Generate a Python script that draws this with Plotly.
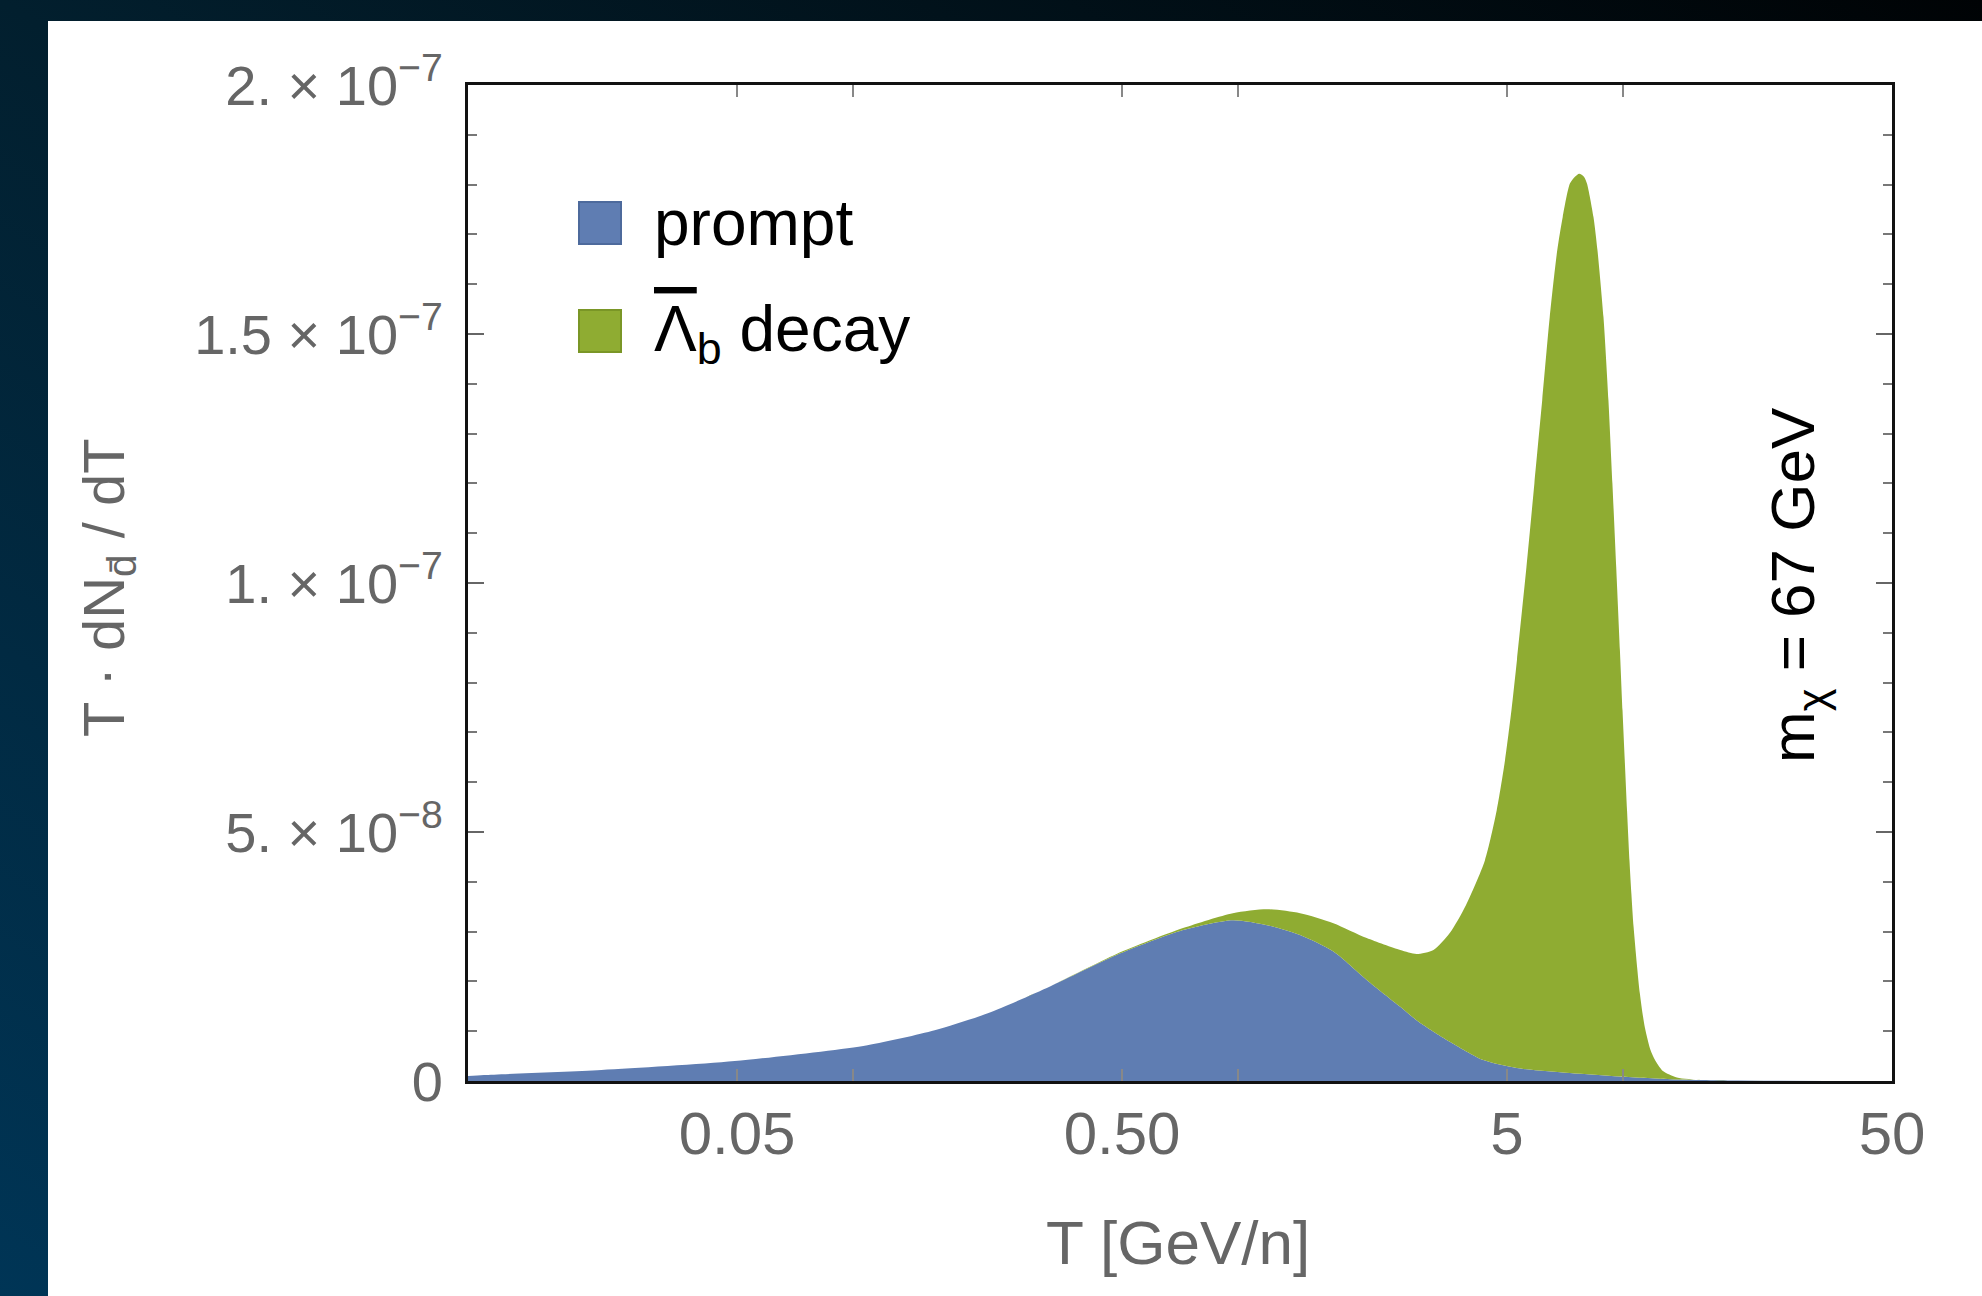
import base64
import plotly.graph_objects as go

# ---------------- data ----------------
# prompt component: T [GeV/n] and T dN/dT in units of 1e-9
T_prompt = [0.01, 0.011, 0.0222, 0.0493, 0.109, 0.163, 0.224, 0.325, 0.484, 0.72,
            0.97, 1.19, 1.45, 1.77, 2.16, 2.64, 2.91, 3.22, 3.55, 4.34,
            5.30, 7.28, 9.81, 13.8, 20.0, 50.0]
prompt = [1.0, 1.2, 2.2, 4.0, 7.2, 10.2, 13.6, 19.0, 25.3, 30.3,
          32.3, 31.3, 29.3, 26.0, 20.3, 14.9, 12.2, 9.9, 7.9, 4.2,
          2.6, 1.6, 0.9, 0.3, 0.1, 0.0]

# stacked total (prompt + anti-Lambda_b decay), units of 1e-9
T_total = [0.01, 0.011, 0.0222, 0.0493, 0.109, 0.163, 0.224, 0.325, 0.484, 0.72,
           0.97, 1.19, 1.45, 1.77, 2.16, 2.64, 2.91, 3.22, 3.55,
           3.91, 4.38, 4.70, 4.94, 5.133, 5.305, 5.616, 5.889, 6.171,
           6.455, 6.752, 6.977, 7.283, 7.505, 7.70, 7.92, 8.065, 8.385, 8.588,
           8.902, 9.170, 9.391, 9.607, 9.822, 9.977, 10.11, 10.25, 10.40, 10.52,
           10.66, 11.07, 11.40, 11.82, 12.18, 12.70, 13.81, 16.0, 20.0, 50.0]
total = [1.0, 1.2, 2.2, 4.0, 7.2, 10.2, 13.6, 19.0, 25.5, 30.7,
         33.7, 34.5, 33.7, 31.7, 28.7, 26.3, 25.5, 26.3, 29.7,
         35.3, 44.3, 54.3, 64.4, 74.4, 84.5, 103.2, 120.0, 136.7,
         153.4, 166.8, 173.5, 180.2, 181.6, 182.2, 181.6, 180.2, 173.5, 166.8,
         153.4, 136.7, 120.0, 103.2, 86.5, 74.4, 64.4, 54.3, 44.3, 37.6,
         30.9, 17.5, 10.8, 6.0, 3.9, 2.0, 0.7, 0.2, 0.1, 0.0]
UNIT = 1e-9

x_tickvals = [0.05, 0.5, 5, 50]
x_ticktext = ["0.05", "0.50", "5", "50"]
x_minorvals = [0.01, 0.1, 1, 10]
y_tickvals = [0, 5e-8, 1e-7, 1.5e-7, 2e-7]
y_ticktext = ["0", "5. × 10<sup>−8</sup>", "1. × 10<sup>−7</sup>",
              "1.5 × 10<sup>−7</sup>", "2. × 10<sup>−7</sup>"]

legend_labels = ["prompt",
                 '<span style="text-decoration:overline">Λ</span><sub>b</sub> decay']
blue = "#5f7db2"
green = "#8fac32"

# ---------------- layout geometry ----------------
W, H = 1982, 1296
ML, MR, MT, MB = 468, 90, 85, 215
PW, PH = W - ML - MR, H - MT - MB


def px(xp):
    return (xp - ML) / PW


def py(yp):
    return (H - MB - yp) / PH


FONT = "Liberation Sans, Arial, Helvetica, sans-serif"
GRAY = "#666666"

fig = go.Figure()
fig.add_trace(go.Scatter(
    x=T_prompt, y=[v * UNIT for v in prompt], mode="lines",
    line=dict(color=blue, width=0, shape="spline", smoothing=0.7),
    fill="tozeroy", fillcolor=blue, name="prompt", showlegend=False,
    hoverinfo="skip"))
fig.add_trace(go.Scatter(
    x=T_total, y=[v * UNIT for v in total], mode="lines",
    line=dict(color=green, width=0, shape="spline", smoothing=0.7),
    fill="tonexty", fillcolor=green, name="Λb decay", showlegend=False,
    hoverinfo="skip"))

# background gradient (dark frame around white panel)
svg = ('<svg xmlns="http://www.w3.org/2000/svg" width="1982" height="1296" '
       'viewBox="0 0 1982 1296" preserveAspectRatio="none"><defs>'
       '<linearGradient id="g" x1="0" y1="1" x2="1" y2="0">'
       '<stop offset="0" stop-color="#003556"/>'
       '<stop offset="0.5" stop-color="#021f2e"/>'
       '<stop offset="1" stop-color="#000305"/>'
       '</linearGradient></defs>'
       '<rect width="1982" height="1296" fill="url(#g)"/></svg>')
src = "data:image/svg+xml;base64," + base64.b64encode(svg.encode()).decode()

fig.update_layout(
    width=W, height=H,
    margin=dict(l=ML, r=MR, t=MT, b=MB),
    paper_bgcolor="#011826", plot_bgcolor="white",
    font=dict(family=FONT, color=GRAY),
    images=[dict(source=src, xref="paper", yref="paper",
                 x=px(0), y=py(0), sizex=W / PW, sizey=H / PH,
                 xanchor="left", yanchor="top", sizing="stretch",
                 layer="below")],
    shapes=[
        dict(type="rect", xref="paper", yref="paper", layer="below",
             x0=px(48), x1=px(W + 10), y0=py(H + 10), y1=py(21),
             fillcolor="white", line=dict(width=0)),
        # legend swatches
        dict(type="rect", xref="paper", yref="paper",
             x0=px(579), x1=px(621), y0=py(244), y1=py(202),
             fillcolor=blue, line=dict(color="#4d6a9c", width=2)),
        dict(type="rect", xref="paper", yref="paper",
             x0=px(579), x1=px(621), y0=py(352), y1=py(310),
             fillcolor=green, line=dict(color="#7a9626", width=2)),
    ],
)

fig.update_xaxes(
    type="log", range=[-2, 1.69897],
    tickmode="array", tickvals=x_tickvals, ticktext=x_ticktext,
    ticks="inside", ticklen=12, tickwidth=2, tickcolor="#888888",
    minor=dict(tickmode="array", tickvals=x_minorvals, ticks="inside",
               ticklen=12, tickwidth=2, tickcolor="#888888"),
    tickfont=dict(size=60, color=GRAY, family=FONT),
    ticklabelstandoff=-2,
    showline=True, linewidth=3, linecolor="#111111", mirror="ticks",
    showgrid=False, zeroline=False,
)
fig.update_yaxes(
    range=[0, 2e-7],
    tickmode="array", tickvals=y_tickvals, ticktext=y_ticktext,
    ticks="inside", ticklen=16, tickwidth=2, tickcolor="#666666",
    minor=dict(dtick=1e-8, ticks="inside", ticklen=9, tickwidth=2,
               tickcolor="#777777"),
    tickfont=dict(size=56, color=GRAY, family=FONT),
    ticklabelstandoff=11,
    showline=True, linewidth=3, linecolor="#111111", mirror="ticks",
    showgrid=False, zeroline=False,
)

ann = [
    dict(text="T [GeV/n]", x=px(1178), y=py(1242), xref="paper", yref="paper",
         showarrow=False, xanchor="center", yanchor="middle",
         font=dict(size=62, color=GRAY, family=FONT)),
    dict(text="T · dN<sub>d\u0304</sub> / dT", x=px(108), y=py(588),
         xref="paper", yref="paper", textangle=-90,
         showarrow=False, xanchor="center", yanchor="middle",
         font=dict(size=58, color=GRAY, family=FONT)),
    dict(text="m<sub>χ</sub> = 67 GeV", x=px(1797), y=py(585),
         xref="paper", yref="paper", textangle=-90,
         showarrow=False, xanchor="center", yanchor="middle",
         font=dict(size=62, color="black", family=FONT)),
    dict(text=legend_labels[0], x=px(652), y=py(223), xref="paper", yref="paper",
         showarrow=False, xanchor="left", yanchor="middle",
         font=dict(size=64, color="black", family=FONT)),
    dict(text=legend_labels[1], x=px(652), y=py(333), xref="paper", yref="paper",
         showarrow=False, xanchor="left", yanchor="middle",
         font=dict(size=64, color="black", family=FONT)),
]
fig.update_layout(annotations=ann)

fig.write_html(
    "out.html",
    config={"displayModeBar": False, "staticPlot": True},
    post_script="document.body.style.margin='0';"
                "document.body.style.overflow='hidden';"
                "document.body.style.background='#011826';")
